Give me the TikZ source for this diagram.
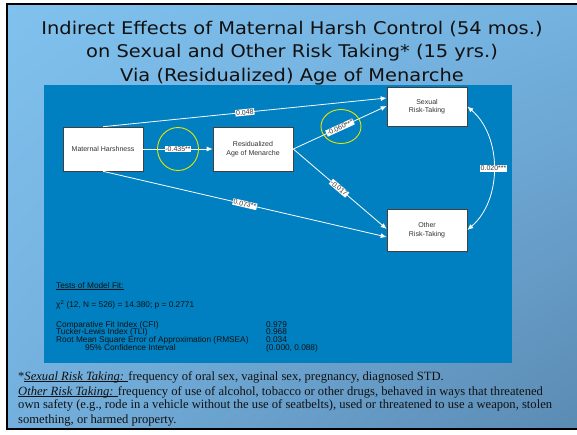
\documentclass[tikz,border=0pt]{standalone}
\usepackage{fontspec}
\setmainfont{Liberation Serif}
\newfontfamily\titlefont[FakeStretch=1.11]{DejaVu Sans}
\newfontfamily\arialfont{Liberation Sans}
\usetikzlibrary{arrows.meta,calc,shadings}
\definecolor{panelblue}{HTML}{0080C0}
\definecolor{boxgray}{HTML}{404040}
\definecolor{textgray}{HTML}{333333}
\definecolor{ringyellow}{HTML}{E6E600}
\definecolor{darktext}{HTML}{111111}
\definecolor{bgul}{RGB}{128,193,238}
\definecolor{bgur}{RGB}{116,178,224}
\definecolor{bgll}{RGB}{116,176,222}
\definecolor{bglr}{RGB}{90,138,178}
\newcommand\thickul[1]{\leavevmode\setbox0\hbox{#1}\rlap{\raisebox{-2.4pt}{\rule{\wd0}{1.7pt}}}\box0}
\begin{document}
\begin{tikzpicture}[x=1pt,y=-1pt,
  box/.style={draw=boxgray, fill=white, line width=0.6pt, minimum width=80pt,
    font=\arialfont\fontsize{7}{8.5}\selectfont, text=textgray, align=center, inner sep=0pt},
  coef/.style={fill=white, inner sep=0.8pt, font=\arialfont\fontsize{7}{8}\selectfont, text=textgray},
  conn/.style={draw=white, line width=0.8pt, -{Latex[length=6pt,width=5pt]}},
  ring/.style={draw=ringyellow, line width=0.9pt},
  fittext/.style={anchor=base west, inner sep=0pt, font=\arialfont\fontsize{8.3}{9}\selectfont, text=darktext},
  titletext/.style={anchor=base, inner sep=0pt, font=\titlefont\fontsize{17.5}{20}\selectfont, text=darktext},
  foot/.style={anchor=base west, inner sep=0pt, font=\fontsize{12.6}{14}\selectfont, text=darktext}]
\useasboundingbox (0,0) rectangle (577,434);
\clip (0,0) rectangle (577,434);
\fill[white] (0,0) rectangle (577,434);
% slide background
\shade[upper left=bgul, upper right=bgur, lower left=bgll, lower right=bglr]
  (7,4) rectangle (590,429);
\draw[black, line width=2.5pt] (590,4) -- (7,4) -- (7,429) -- (590,429);
% title
\node[titletext] (title1) at (292,34) {Indirect Effects of Maternal Harsh Control (54 mos.)};
\node[titletext] (title2) at (292,57.5) {on Sexual and Other Risk Taking* (15 yrs.)};
\node[titletext] (title3) at (292,81) {Via (Residualized) Age of Menarche};
% panel
\fill[panelblue] (44,85) rectangle (512,363);
% boxes
\node[box, minimum height=44pt] (mh) at (103,149) {Maternal Harshness};
\node[box, minimum height=44pt] (ram) at (253,149) {Residualized\\Age of Menarche};
\node[box, minimum height=39pt] (sr) at (427,106.5) {Sexual\\Risk-Taking};
\node[box, minimum height=42pt] (ort) at (427,230) {Other\\Risk-Taking};
% paths
\draw[conn] (mh.east) -- node[coef] (l1) {-0.435**} (ram.west);
\draw[conn] (mh.north) -- node[coef, rotate=5.8] (l2) {0.048} ([yshift=8.5pt]sr.west);
\draw[conn] (mh.south) -- node[coef, rotate=-13.1] (l3) {0.073**} ([yshift=-7pt]ort.west);
\draw[conn] (ram.east) -- node[coef, rotate=24.6] (l4) {-0.060***} ([yshift=0.5pt]sr.west);
\draw[conn] (ram.east) -- node[coef, rotate=-40.4, pos=0.49] (l5) {-0.017} ([yshift=1pt]ort.west);
\draw[conn, {Latex[length=6pt,width=5pt]}-{Latex[length=6pt,width=5pt]}]
  (sr.east) .. controls ($(sr.east)+(35,30)$) and ($(ort.east)+(35,-30)$) .. node[coef] (l6) {0.020***} (ort.east);
% highlight rings
\draw[ring] (l1.center) ellipse [x radius=20.5, y radius=21.5];
\draw[ring] ($(l4.center)+(1,-1)$) ellipse [x radius=20, y radius=17];
% model fit
\node[fittext] (f1) at (56,288) {\underline{Tests of Model Fit:}};
\node[fittext] (f2) at (56,307.5) {χ\textsuperscript{2} (12, N = 526) = 14.380; p = 0.2771};
\node[fittext] (f3) at (56,327) {Comparative Fit Index (CFI)};
\node[fittext] (f4) at (56,334.5) {Tucker-Lewis Index (TLI)};
\node[fittext] (f5) at (56,342) {Root Mean Square Error of Approximation (RMSEA)};
\node[fittext] (f6) at (85,350) {95\% Confidence Interval};
\node[fittext] (v3) at (266,327) {0.979};
\node[fittext] (v4) at (266,334.5) {0.968};
\node[fittext] (v5) at (266,342) {0.034};
\node[fittext] (v6) at (266,350) {(0.000, 0.088)};
% footnote
\node[foot] (n1) at (18,380) {*\thickul{\textit{Sexual Risk Taking:} }frequency of oral sex, vaginal sex, pregnancy, diagnosed STD.};
\node[foot] (n2) at (18,395) {\thickul{\textit{Other Risk Taking:} } frequency of use of alcohol, tobacco or other drugs, behaved in ways that threatened};
\node[foot] (n3) at (18,408.5) {own safety (e.g., rode in a vehicle without the use of seatbelts), used or threatened to use a weapon, stolen};
\node[foot] (n4) at (18,423.5) {something, or harmed property.};
\end{tikzpicture}
\end{document}
